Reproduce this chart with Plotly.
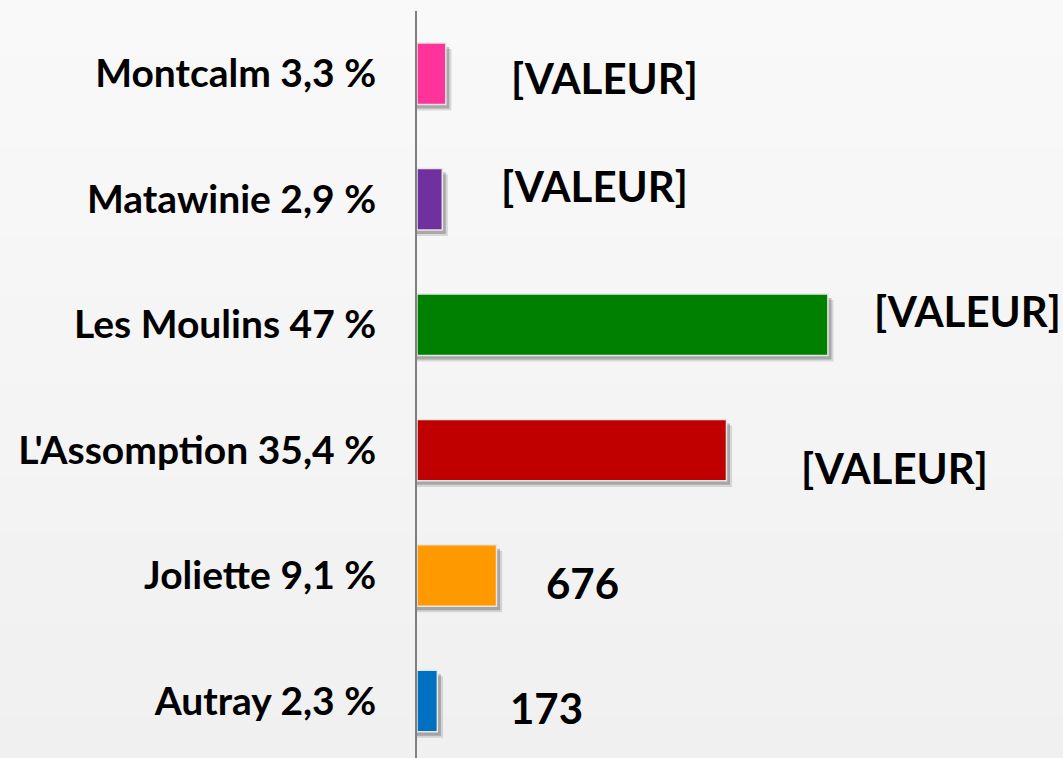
import plotly.graph_objects as go

categories = ["Autray 2,3 %", "Joliette 9,1 %", "L'Assomption 35,4 %",
              "Les Moulins 47 %", "Matawinie 2,9 %", "Montcalm 3,3 %"]
values = [173, 676, 2630, 3492, 215, 245]
value_labels = ["173", "676", "[VALEUR]", "[VALEUR]", "[VALEUR]", "[VALEUR]"]
colors = ["#0070c0", "#ff9900", "#c00000", "#008000", "#7030a0", "#ff3399"]

# label offsets from bar end (px): dx right, dy down
label_dx = [71, 47, 73, 44, 57, 63]
label_dy = [7, 7, 18, -14, -13, 4]

W, H = 1063, 758
FONT = "Lato"
bar_w = 0.49

fig = go.Figure()

# soft shadows
for k, (sx, sy, a) in enumerate([(48, 0.048, 0.12), (30, 0.032, 0.22)]):
    fig.add_trace(go.Bar(
        y=list(range(len(categories))), x=[v + sx for v in values], orientation="h",
        width=bar_w, offset=-bar_w / 2 - sy,
        marker=dict(color=f"rgba(0,0,0,{a})", line=dict(width=0)),
        hoverinfo="skip", showlegend=False))

fig.add_trace(go.Bar(
    y=list(range(len(categories))), x=values, orientation="h",
    width=bar_w, offset=-bar_w / 2,
    marker=dict(color=colors, line=dict(color="#e6e6e6", width=1.5)),
    showlegend=False))

for i, (v, t) in enumerate(zip(values, value_labels)):
    fig.add_annotation(x=v, y=i, text=f"<b>{t}</b>", showarrow=False,
                       xanchor="left", yanchor="middle",
                       xshift=label_dx[i], yshift=-label_dy[i],
                       font=dict(family=FONT, size=42, color="black"))

# background gradient bands
n = 30
for k in range(n):
    c = int(round(250 - (250 - 239) * k / (n - 1)))
    fig.add_shape(type="rect", xref="paper", yref="paper",
                  x0=-1, x1=2, y0=1.1 - (k) * (1.2 / n), y1=1.1 - (k + 1) * (1.2 / n) - 0.001,
                  fillcolor=f"rgb({c},{c},{c})", line=dict(width=0), layer="below")

fig.update_layout(
    width=W, height=H,
    margin=dict(l=417, r=0, t=11, b=0),
    paper_bgcolor="#f4f4f4", plot_bgcolor="rgba(0,0,0,0)",
    barmode="overlay",
    xaxis=dict(range=[0, 5490], visible=False, showgrid=False, zeroline=False),
    yaxis=dict(range=[-0.454, 5.5], tickmode="array",
               tickvals=list(range(len(categories))),
               ticktext=[f"<b>{c}</b>" for c in categories],
               tickfont=dict(family=FONT, size=39, color="black"),
               showline=True, linecolor="#7f7f7f", linewidth=2,
               ticks="", ticklabelstandoff=31, showgrid=False, zeroline=False),
)

fig.write_html("out.html")
